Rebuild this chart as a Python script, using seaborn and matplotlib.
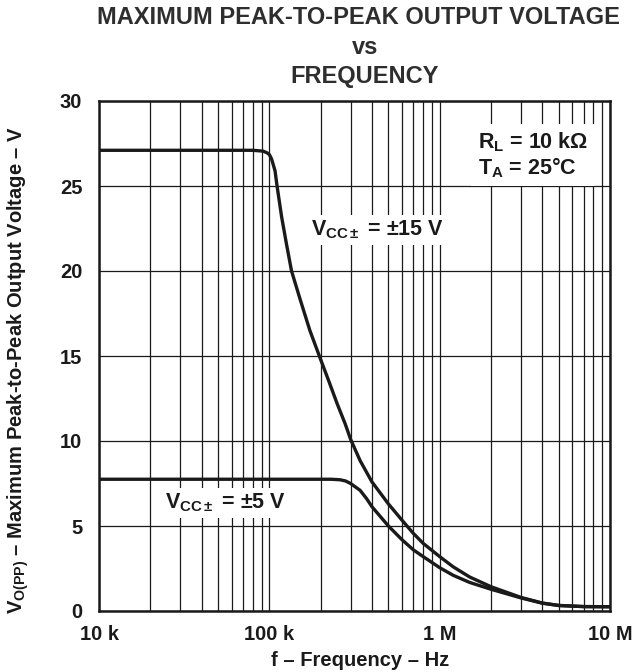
import numpy as np
import pandas as pd
import matplotlib
matplotlib.use("Agg")
import matplotlib.pyplot as plt
import seaborn as sns
from matplotlib.ticker import FixedLocator, LogLocator, NullFormatter

# ---- data ----
freq_15 = [10e3, 50e3, 80e3, 92e3, 97e3, 100e3, 103e3, 108e3, 111e3, 118e3, 126e3,
           135e3, 152e3, 173e3, 200e3, 222e3, 250e3, 279e3, 300e3, 341e3, 400e3,
           500e3, 600e3, 700e3, 800e3, 1e6, 1.2e6, 1.5e6, 2e6, 3e6, 4e6, 5e6,
           7e6, 10e6]
vopp_15 = [27.1, 27.1, 27.1, 27.05, 26.95, 26.85, 26.6, 25.9, 25.0, 23.2, 21.6,
           20.0, 18.3, 16.5, 14.8, 13.6, 12.2, 11.0, 10.1, 8.85, 7.6,
           6.3, 5.35, 4.57, 3.98, 3.2, 2.6, 2.0, 1.43, 0.8, 0.47, 0.33,
           0.26, 0.25]

freq_5 = [10e3, 100e3, 230e3, 260e3, 280e3, 300e3, 341e3, 373e3, 400e3, 500e3,
          600e3, 700e3, 800e3, 1e6, 1.2e6, 1.5e6, 2e6, 3e6, 4e6, 5e6, 7e6, 10e6]
vopp_5 = [7.75, 7.75, 7.75, 7.72, 7.65, 7.5, 7.1, 6.6, 6.14, 5.0,
          4.2, 3.6, 3.2, 2.55, 2.1, 1.68, 1.28, 0.77, 0.46, 0.32, 0.26, 0.25]

series_names = ["±15 V", "±5 V"]
x_ticks = [1e4, 1e5, 1e6, 1e7]
x_tick_labels = ["10 k", "100 k", "1 M", "10 M"]
y_ticks = [0, 5, 10, 15, 20, 25, 30]

df = pd.concat([
    pd.DataFrame({"f": freq_15, "v": vopp_15, "supply": series_names[0]}),
    pd.DataFrame({"f": freq_5, "v": vopp_5, "supply": series_names[1]}),
])

sns.set_theme(style="white")
plt.rcParams["font.family"] = ["Liberation Sans", "DejaVu Sans"]
plt.rcParams["font.weight"] = "bold"
plt.rcParams["mathtext.fontset"] = "custom"
plt.rcParams["mathtext.rm"] = "Liberation Sans:bold"
plt.rcParams["mathtext.bf"] = "Liberation Sans:bold"
plt.rcParams["mathtext.it"] = "Liberation Sans:bold"
plt.rcParams["mathtext.default"] = "bf"

fig = plt.figure(figsize=(6.33, 6.72), dpi=100)
ax = fig.add_axes([99/633, 61/672, 511/633, 510/672])

ink = "#1a1a1a"
sns.lineplot(data=df, x="f", y="v", hue="supply", palette=[ink, ink],
             linewidth=2.4, legend=False, ax=ax, sort=False)
for ln in ax.get_lines():
    ln.set_solid_joinstyle("round")
    ln.set_solid_capstyle("round")

ax.set_xscale("log")
ax.set_xlim(1e4, 1e7)
ax.set_ylim(0, 30)

ax.xaxis.set_major_locator(FixedLocator(x_ticks))
ax.set_xticklabels(x_tick_labels)
ax.xaxis.set_minor_locator(LogLocator(base=10, subs=np.arange(2, 10)))
ax.xaxis.set_minor_formatter(NullFormatter())
ax.yaxis.set_major_locator(FixedLocator(y_ticks))

ax.grid(True, which="both", axis="x", color=ink, linewidth=0.9)
ax.grid(True, which="major", axis="y", color=ink, linewidth=0.9)
ax.set_axisbelow(True)

for s in ax.spines.values():
    s.set_color(ink)
    s.set_linewidth(1.8)

FS = 14.5
ax.tick_params(axis="both", which="both", length=0, labelsize=FS, colors=ink)
ax.tick_params(axis="y", pad=12)
ax.tick_params(axis="x", pad=10)
for lab in ax.get_xticklabels() + ax.get_yticklabels():
    lab.set_fontweight("bold")

ax.set_xlabel("f – Frequency – Hz", fontsize=FS, fontweight="bold", color=ink,
              va="center")
ax.set_ylabel(r"V$_{O(PP)}$ – Maximum Peak-to-Peak Output Voltage – V",
              fontsize=FS, fontweight="bold", color=ink, va="center")
ax.xaxis.set_label_coords((360 - 99) / 511, (611 - 660) / 510)
ax.yaxis.set_label_coords((18 - 99) / 511, (611 - 370) / 510)

AFS = 15.5
bbox = dict(facecolor="white", edgecolor="none", pad=3)
ax.text((478 - 99) / 511, (611 - 155) / 510, "R$_L$ = 10 kΩ\nT$_A$ = 25°C",
        transform=ax.transAxes, fontsize=AFS, fontweight="bold", color=ink,
        va="center", ha="left", linespacing=1.05,
        bbox=dict(facecolor="white", edgecolor="none", pad=5))
ax.text((311 - 99) / 511, (611 - 230) / 510, r"V$_{CC\pm}$ = ±15 V",
        transform=ax.transAxes, fontsize=AFS, fontweight="bold", color=ink,
        va="center", ha="left", bbox=bbox)
ax.text((165 - 99) / 511, (611 - 503) / 510, r"V$_{CC\pm}$ = ±5 V",
        transform=ax.transAxes, fontsize=AFS, fontweight="bold", color=ink,
        va="center", ha="left", bbox=bbox)

TFS = 17
tcol = "#2e2e2e"
fig.text(358/633, 1 - 18/672, "MAXIMUM PEAK-TO-PEAK OUTPUT VOLTAGE", ha="center",
         va="center", fontsize=TFS, fontweight="bold", color=tcol)
fig.text(365/633, 1 - 47/672, "vs", ha="center", va="center", fontsize=TFS,
         fontweight="bold", color=tcol)
fig.text(365/633, 1 - 76/672, "FREQUENCY", ha="center", va="center", fontsize=TFS,
         fontweight="bold", color=tcol)

fig.savefig("out.png", dpi=100, facecolor="white")
